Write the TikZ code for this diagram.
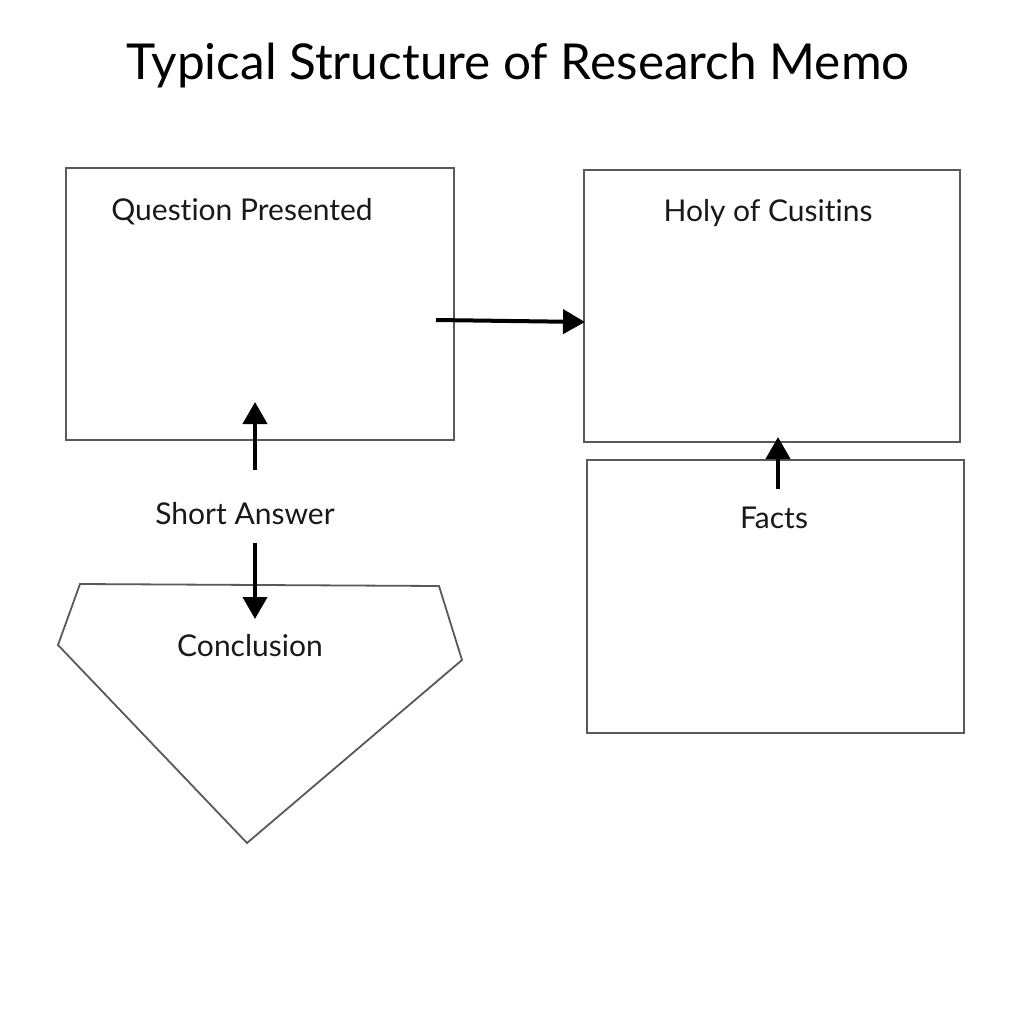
\documentclass[tikz,border=0pt]{standalone}
\usepackage{fontspec}
\setmainfont[Ligatures={NoCommon}]{Lato}
\usetikzlibrary{arrows.meta}
\begin{document}
\begin{tikzpicture}[x=1pt,y=-1pt,
  box/.style={draw=black!65,line width=1.8pt,minimum width=#1,inner sep=0pt,outer sep=0pt},
  lbl/.style={font=\fontsize{30}{34}\selectfont,text=black!90,inner sep=0pt},
  conn/.style={line width=4pt,-{Triangle[length=22pt,width=24pt]}}]
\useasboundingbox[fill=white] (0,0) rectangle (1024,1024);
\node[font=\fontsize{49.5}{56}\selectfont,inner sep=0pt] (title) at (518,66) {Typical Structure of Research Memo};
\node[box=388pt,minimum height=272pt] (qp) at (260,304) {};
\node[box=376pt,minimum height=272pt] (holy) at (772,306) {};
\node[box=377pt,minimum height=273pt] (facts) at (775.5,596.5) {};
\draw[draw=black!65,line width=1.8pt] (80,584) coordinate (p1) -- (439,586) coordinate (p2) -- (462,660) coordinate (p3) -- (247,843) coordinate (p4) -- (58,645) coordinate (p5) -- cycle;
\node[lbl] (qpl) at (242,212) {Question Presented};
\node[lbl] (holyl) at (768,213) {Holy of Cusitins};
\node[lbl] (sa) at (245,514) {Short Answer};
\node[lbl] (factsl) at (774,518) {Facts};
\node[lbl] (concl) at (250,646) {Conclusion};
\coordinate (a1s) at (255,470); \coordinate (a1e) at (255,402);
\coordinate (a2s) at (255,543); \coordinate (a2e) at (255,619);
\coordinate (a3s) at (436,320); \coordinate (a3e) at (585,322);
\coordinate (a4s) at (778,489); \coordinate (a4e) at (778,437);
\draw[conn] (a1s) -- (a1e);
\draw[conn] (a2s) -- (a2e);
\draw[conn] (a3s) -- (a3e);
\draw[conn] (a4s) -- (a4e);
\end{tikzpicture}
\end{document}
